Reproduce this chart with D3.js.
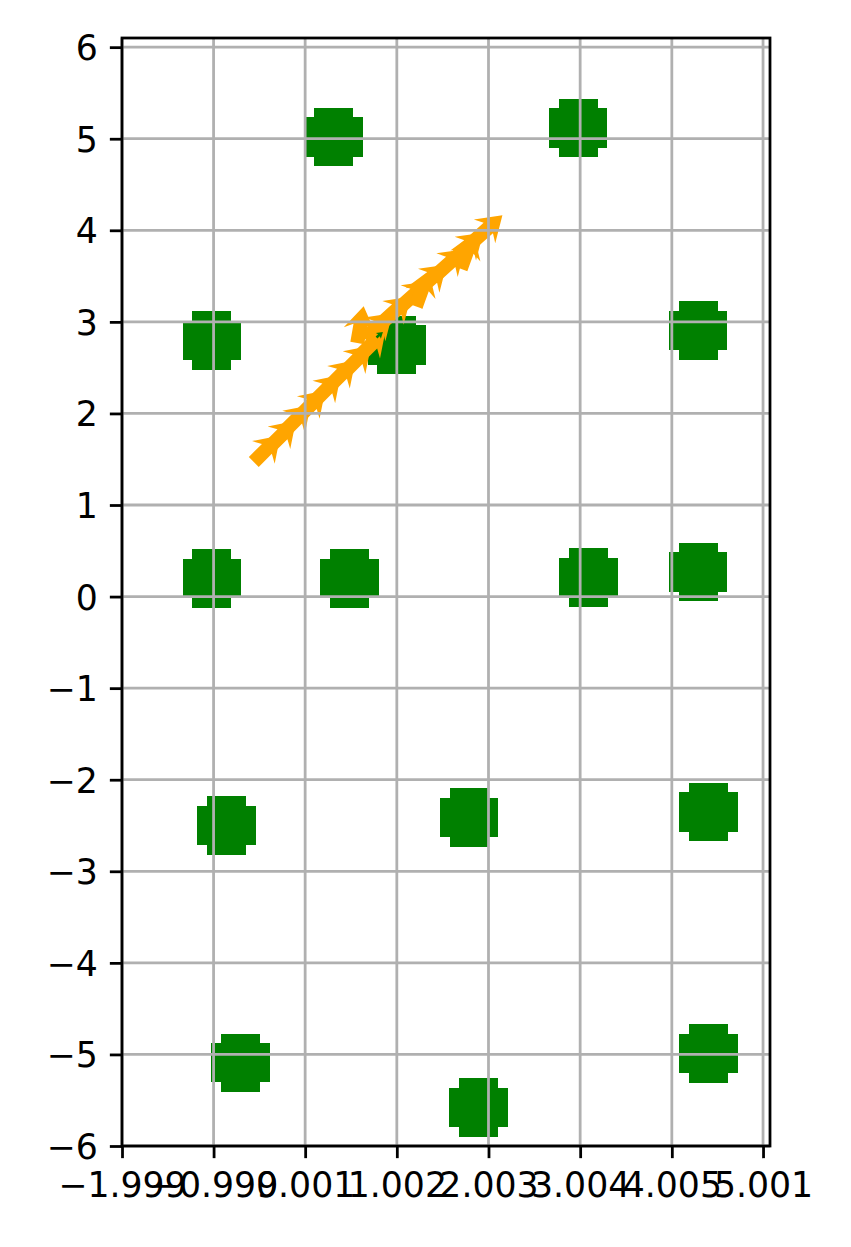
<!DOCTYPE html>
<html><head><meta charset="utf-8">
<script src="https://cdn.jsdelivr.net/npm/d3@7"></script>
<style>html,body{margin:0;padding:0;background:#fff;}</style>
</head><body>
<script>
// ---- data ----
const xTickValues = [-1.999, -0.999, 0.001, 1.002, 2.003, 3.004, 4.005, 5.001];
const xTickLabels = ["\u22121.999", "\u22120.999", "0.001", "1.002", "2.003", "3.004", "4.005", "5.001"];
const yTickValues = [-6, -5, -4, -3, -2, -1, 0, 1, 2, 3, 4, 5, 6];

const landmarkX = [0.31, 2.98, -1.02, 1.00, 4.29, -1.02, 0.48, 3.09, 4.29, -0.86, 1.79, 4.40, -0.71, 1.89, 4.40];
const landmarkY = [5.02, 5.12, 2.80, 2.75, 2.91, 0.20, 0.20, 0.21, 0.27, -2.50, -2.41, -2.35, -5.09, -5.58, -4.99];

// robot poses (orange quiver): position and heading vector
const poseX = [-0.56, -0.39, -0.23, -0.07, 0.10, 0.26, 0.43, 0.59, 0.57, 0.65, 0.85, 1.05, 1.24, 1.44, 1.64, 1.85, 1.21, 1.70];
const poseY = [1.47, 1.63, 1.80, 1.96, 2.13, 2.29, 2.45, 2.62, 2.77, 2.82, 3.00, 3.17, 3.35, 3.52, 3.70, 3.89, 3.17, 3.58];
const poseU = [0.29, 0.29, 0.29, 0.29, 0.29, 0.29, 0.29, 0.29, 0.07, 0.305, 0.305, 0.305, 0.305, 0.305, 0.305, 0.305, 0.14, 0.14];
const poseV = [0.29, 0.29, 0.29, 0.29, 0.29, 0.29, 0.29, 0.29, 0.40, 0.274, 0.274, 0.274, 0.274, 0.274, 0.274, 0.274, 0.385, 0.385];
// small green estimate arrow
const estX = [0.78];
const estY = [2.83];
const estU = [0.07];
const estV = [0.06];

// ---- layout ----
const W = 851, H = 1247;
const L = 122, R = 770, T = 38, B = 1146;
const LW = 2.78, TICK = 12.15, FS = 34.7;
const svg = d3.select("body").append("svg").attr("width", W).attr("height", H);

const x = d3.scaleLinear().domain([-1.999, 5.077]).range([L, R]);
const y = d3.scaleLinear().domain([-6, 6.1]).range([B, T]);

const plot = svg.append("g");
plot.append("defs").append("clipPath").attr("id", "clip")
  .append("rect").attr("x", L).attr("y", T).attr("width", R - L).attr("height", B - T);
const inner = plot.append("g").attr("clip-path", "url(#clip)");

// landmarks as pixelated blobs
const cell = 9.7, nC = 6, rad = 2.95;
const cells = [];
landmarkX.forEach((lx, i) => {
  const cx = x(lx), cy = y(landmarkY[i]);
  for (let a = 0; a < nC; a++) for (let b = 0; b < nC; b++) {
    const dx = a - (nC - 1) / 2, dy = b - (nC - 1) / 2;
    if (dx * dx + dy * dy <= rad * rad) cells.push({x: cx + dx * cell - cell / 2, y: cy + dy * cell - cell / 2});
  }
});
inner.append("g").selectAll("rect").data(cells).join("rect")
  .attr("x", d => d.x).attr("y", d => d.y).attr("width", cell + 0.4).attr("height", cell + 0.4)
  .attr("fill", "#008000").attr("shape-rendering", "crispEdges");

// quiver-like arrows
function arrowPoly(x0, y0, x1, y1, w, hw, hl, hal) {
  const dx = x1 - x0, dy = y1 - y0, len = Math.hypot(dx, dy);
  let pts;
  if (len < hl) {
    const k = len / hl;
    pts = [[0, -w / 2], [hl - hal, -w / 2], [0, -hw / 2], [hl, 0], [0, hw / 2], [hl - hal, w / 2], [0, w / 2]]
      .map(p => [p[0] * k, p[1] * k]);
  } else {
    pts = [[0, -w / 2], [len - hal, -w / 2], [len - hl, -hw / 2], [len, 0], [len - hl, hw / 2], [len - hal, w / 2], [0, w / 2]];
  }
  const ux = dx / len, uy = dy / len;
  return pts.map(p => [x0 + p[0] * ux - p[1] * uy, y0 + p[0] * uy + p[1] * ux]);
}
const arrows = [];
poseX.forEach((px, i) => arrows.push({
  pts: arrowPoly(x(px), y(poseY[i]), x(px + poseU[i]), y(poseY[i] + poseV[i]), 14, 32, 24, 19), color: "#FFA500"}));
estX.forEach((px, i) => arrows.push({
  pts: arrowPoly(x(px), y(estY[i]), x(px + estU[i]), y(estY[i] + estV[i]), 2.6, 7.8, 6, 5.2), color: "#008000"}));
inner.append("g").selectAll("path").data(arrows).join("path")
  .attr("d", d => "M" + d.pts.map(p => p.join(",")).join("L") + "Z")
  .attr("fill", d => d.color);

// grid (on top)
const grid = plot.append("g").attr("stroke", "#b0b0b0").attr("stroke-width", LW);
grid.selectAll("line.gx").data(xTickValues).join("line")
  .attr("x1", d => x(d)).attr("x2", d => x(d)).attr("y1", T).attr("y2", B);
grid.selectAll("line.gy").data(yTickValues).join("line")
  .attr("x1", L).attr("x2", R).attr("y1", d => y(d)).attr("y2", d => y(d));

// axes
const font = "'DejaVu Sans', sans-serif";
const xAxis = d3.axisBottom(x).tickValues(xTickValues).tickFormat((d, i) => xTickLabels[i])
  .tickSizeInner(TICK).tickSizeOuter(0).tickPadding(TICK);
const yAxis = d3.axisLeft(y).tickValues(yTickValues).tickFormat(d => d < 0 ? "\u2212" + Math.abs(d) : String(d))
  .tickSizeInner(TICK).tickSizeOuter(0).tickPadding(TICK);
const gx = svg.append("g").attr("transform", `translate(0,${B})`).call(xAxis);
const gy = svg.append("g").attr("transform", `translate(${L},0)`).call(yAxis);
[gx, gy].forEach(g => {
  g.select(".domain").remove();
  g.selectAll(".tick line").attr("stroke", "#000").attr("stroke-width", LW);
  g.selectAll(".tick text").attr("font-family", font).attr("font-size", FS).attr("fill", "#000");
});
gx.selectAll(".tick text").attr("dy", "0.76em");
gy.selectAll(".tick text").attr("dy", "0.36em");
// spines
svg.append("rect").attr("x", L).attr("y", T).attr("width", R - L).attr("height", B - T)
  .attr("fill", "none").attr("stroke", "#000").attr("stroke-width", LW);
</script>
</body></html>
